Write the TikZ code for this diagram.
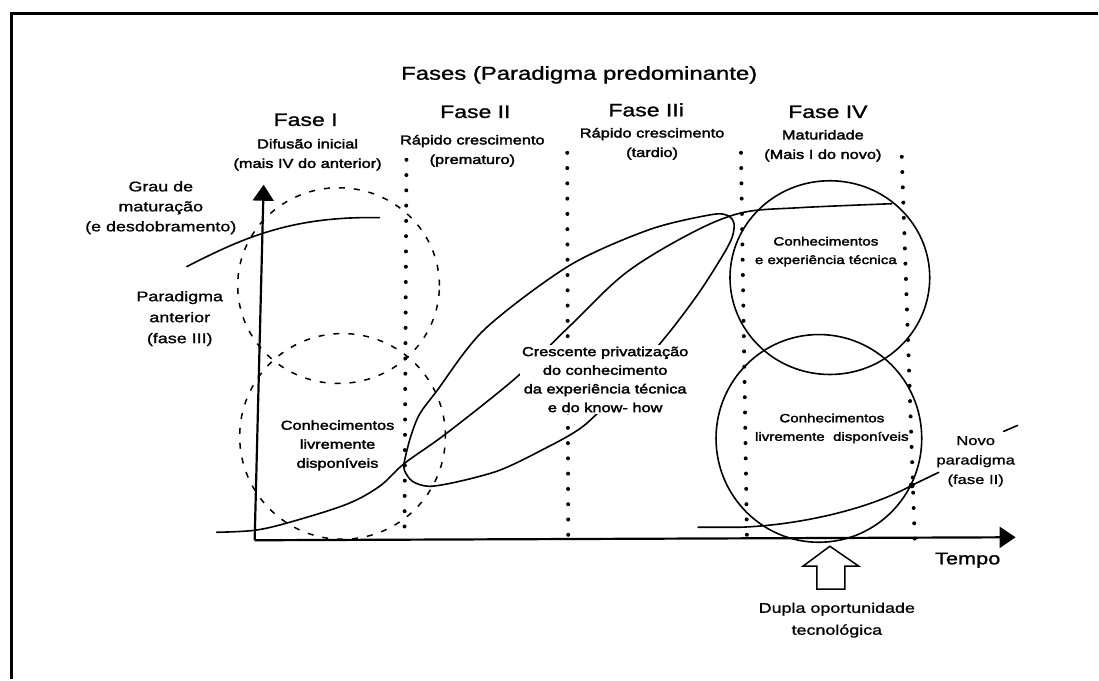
\documentclass[tikz,border=0pt]{standalone}
\usepackage{fontspec}
\setmainfont{Liberation Sans}[FakeStretch=1.28,FakeBold=1.2]
\newfontfamily\hvfont{Liberation Sans}[FakeStretch=1.26,FakeBold=2.4]
\usetikzlibrary{arrows.meta}
\begin{document}
\begin{tikzpicture}[x=1pt,y=-1pt,
  curve/.style={line width=1.6pt, line join=round, line cap=round},
  dotline/.style={line width=4pt, line cap=round, dash pattern=on 0pt off 15.3pt},
  dashcirc/.style={line width=1.5pt, dash pattern=on 6pt off 9pt},
  axisline/.style={line width=2.2pt, -{Triangle[length=16pt,width=21pt]}},
  fasetxt/.style={font=\fontsize{18}{22}\selectfont, inner sep=0pt},
  labtxt/.style={font=\fontsize{14}{20}\selectfont, align=center, inner sep=0pt},
  smtxt/.style={font=\hvfont\fontsize{13}{19.5}\selectfont, align=center, inner sep=0pt},
  circtxt/.style={font=\hvfont\fontsize{12}{18.5}\selectfont, align=center, inner sep=0pt},
]
\path (0,0) rectangle (1099,680);
% frame
\draw[line width=3pt] (12,680) -- (12,14) -- (1099,14);

% titles
\node[font=\fontsize{18.7}{22}\selectfont, inner sep=0pt] (title) at (580,75) {Fases (Paradigma predominante)};
\node[fasetxt] (f1) at (306,120) {Fase I};
\node[fasetxt] (f2) at (476,112) {Fase II};
\node[fasetxt] (f3) at (647,110) {Fase IIi};
\node[fasetxt] (f4) at (829,112) {Fase IV};
\node[smtxt] (d1) at (308,155) {Difusão inicial\\(mais IV do anterior)};
\node[smtxt] (d2) at (473,151) {Rápido crescimento\\(prematuro)};
\node[smtxt] (d3) at (653,144) {Rápido crescimento\\(tardio)};
\node[smtxt] (d4) at (824,146) {Maturidade\\(Mais I do novo)};

% dotted phase separators
\coordinate (l1t) at (407,160); \coordinate (l1b) at (405,540);
\coordinate (l2t) at (568,153); \coordinate (l2b) at (569,540);
\coordinate (l3t) at (742,153); \coordinate (l3b) at (748,540);
\coordinate (l4t) at (903,157); \coordinate (l4b) at (916,540);
\draw[dotline] (l1t) -- (l1b);
\draw[dotline] (l2t) -- (l2b);
\draw[dotline] (l3t) -- (l3b);
\draw[dotline] (l4t) -- (l4b);

% dashed circles of the former paradigm
\draw[dashcirc] (339,286) ellipse [x radius=101pt, y radius=98pt];
\draw[dashcirc] (343,437) ellipse [x radius=103pt, y radius=103pt];

% solid circles of phase IV
\draw[curve] (831,278) ellipse [x radius=100pt, y radius=97pt];
\draw[curve] (820,439) ellipse [x radius=103pt, y radius=104pt];

% axes
\coordinate (O) at (255,541);
\coordinate (ytip) at (264,185);
\coordinate (xtip) at (1017,538);
\draw[axisline] (O) -- (ytip);
\draw[axisline] (O) -- (xtip);

% former paradigm curve
\draw[curve] (187,267) .. controls (240,240) and (290,216) .. (380,218);

% S curve of the predominant paradigm
\draw[curve] plot[smooth, tension=0.55] coordinates {(217,533) (255,531) (290,523) (347,505) (380,487) (405,464) (447,434) (517,378) (570,327) (627,273) (693,233) (743,213) (800,208) (893,204)};

% leaf-shaped loop
\draw[curve] plot[smooth cycle, tension=0.5] coordinates {(405,462) (411,438) (420,415) (437,392) (485,330) (570,266) (650,230) (712,215) (729,216) (735,224) (733,238) (723,257) (700,293) (670,333) (630,380) (585,426) (540,452) (500,471) (460,482) (430,487) (413,482) (405,471)};

% new paradigm curve
\coordinate (nps) at (699,528);
\coordinate (npdot) at (913,486);
\coordinate (npend) at (940,473);
\draw[curve] (nps) -- (740,528) .. controls (800,526) and (870,510) .. (npdot);
\fill (npdot) circle (3pt);
\draw[curve] (npdot) -- (npend);
\coordinate (mk1) at (1005,432); \coordinate (mk2) at (1019,426);
\draw[curve] (mk1) -- (mk2);

% hollow arrow
\draw[line width=1.5pt, line join=miter] (831,547) -- (860,567) -- (846,567) -- (846,590) -- (818,590) -- (818,567) -- (804,567) -- cycle;

% labels
\node[labtxt] (grau) at (161,208) {Grau de\\maturação\\(e desdobramento)};
\node[labtxt, font=\fontsize{14}{21}\selectfont] (pant) at (180,319) {Paradigma\\anterior\\(fase III)};
\node[smtxt, font=\hvfont\fontsize{13}{19}\selectfont] (kl) at (338,446) {Conhecimentos\\livremente\\disponíveis};
\node[smtxt, fill=white, inner sep=1.5pt, font=\hvfont\fontsize{13}{18.7}\selectfont] (cp) at (606,380) {Crescente privatização\\do conhecimento\\da experiência técnica\\e do know- how};
\node[circtxt] (ket) at (827,252) {Conhecimentos\\e experiência técnica};
\node[circtxt] (kld) at (833,429) {Conhecimentos\\livremente\ \ disponíveis};
\node[labtxt, font=\fontsize{13}{19.5}\selectfont] (novo) at (977,462) {Novo\\paradigma\\(fase II)};
\node[inner sep=0pt, font=\fontsize{17}{20}\selectfont] (tempo) at (969,561) {Tempo};
\node[labtxt, font=\fontsize{14}{22}\selectfont] (dupla) at (838,621) {Dupla oportunidade\\tecnológica};
\end{tikzpicture}
\end{document}
